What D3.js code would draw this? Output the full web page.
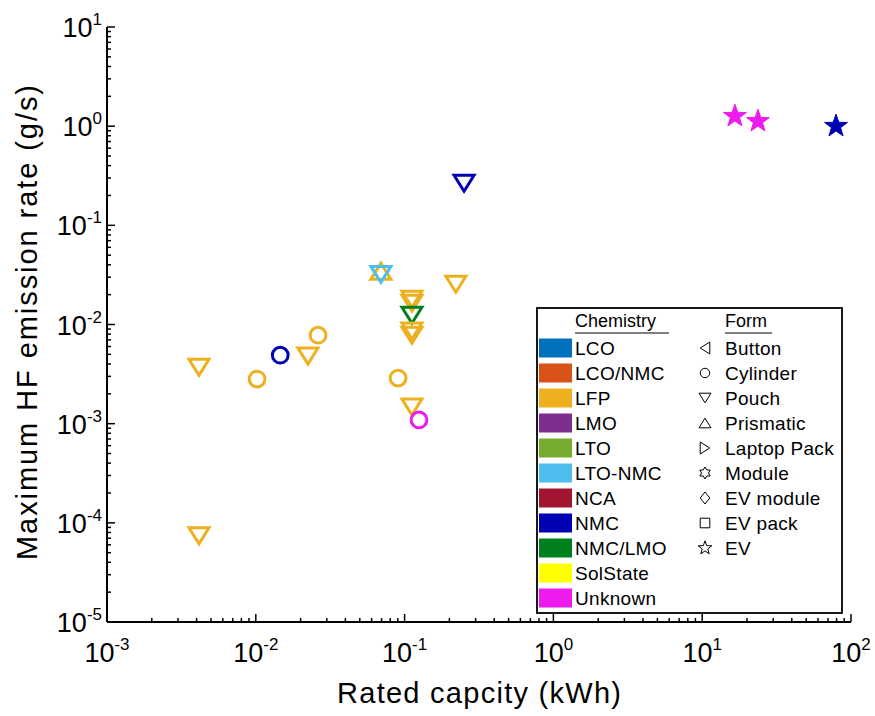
<!DOCTYPE html>
<html>
<head>
<meta charset="utf-8">
<script src="https://d3js.org/d3.v7.min.js"></script>
<style>
  body { margin: 0; background: #fff; }
  svg text { font-family: "Liberation Sans", Arial, sans-serif; }
</style>
</head>
<body>
<div id="chart"></div>
<script>
// data
var capacity  = [0.00415, 0.00415, 0.0102, 0.0146, 0.0224, 0.0262, 0.0693, 0.0693,
                 0.112, 0.112, 0.112, 0.112, 0.112, 0.0904, 0.112, 0.125, 0.221, 0.251,
                 16.6, 23.7, 79.3];
var hfRate    = [0.0037, 0.000074, 0.00282, 0.0049, 0.0048, 0.0078, 0.0345, 0.032,
                 0.018, 0.0164, 0.0124, 0.0086, 0.0078, 0.00288, 0.00147, 0.00109, 0.0255, 0.266,
                 1.26, 1.12, 1.0];
var chemistry = ["LFP", "LFP", "LFP", "NMC", "LFP", "LFP", "LFP", "LTO-NMC",
                 "LFP", "LFP", "NMC/LMO", "LFP", "LFP", "LFP", "LFP", "Unknown", "LFP", "NMC",
                 "Unknown", "Unknown", "NMC"];
var form      = ["Pouch", "Pouch", "Cylinder", "Cylinder", "Pouch", "Cylinder", "Prismatic", "Pouch",
                 "Pouch", "Pouch", "Pouch", "Pouch", "Pouch", "Cylinder", "Pouch", "Cylinder", "Pouch", "Pouch",
                 "EV", "EV", "EV"];

var chemNames  = ["LCO", "LCO/NMC", "LFP", "LMO", "LTO", "LTO-NMC", "NCA", "NMC", "NMC/LMO", "SolState", "Unknown"];
var chemColors = ["#0072BD", "#D95319", "#EDB120", "#7E2F8E", "#77AC30", "#4DBEEE", "#A2142F", "#0000B4", "#007F1F", "#FFFF00", "#EE1AEE"];
var formNames  = ["Button", "Cylinder", "Pouch", "Prismatic", "Laptop Pack", "Module", "EV module", "EV pack", "EV"];

var xTicks = [-3, -2, -1, 0, 1, 2];
var yTicks = [-5, -4, -3, -2, -1, 0, 1];

var W = 875, H = 716;
var margin = {left: 107, right: 24, top: 27, bottom: 94};

var svg = d3.select("#chart").append("svg")
    .attr("width", W).attr("height", H);

var x = d3.scaleLog().domain([1e-3, 1e2]).range([margin.left, W - margin.right]);
var y = d3.scaleLog().domain([1e-5, 1e1]).range([H - margin.bottom, margin.top]);

var color = d3.scaleOrdinal().domain(chemNames).range(chemColors);

// minor ticks
var minorX = [], minorY = [];
for (var e = -3; e < 2; e++) for (var m = 2; m <= 9; m++) minorX.push(m * Math.pow(10, e));
for (var e2 = -5; e2 < 1; e2++) for (var m2 = 2; m2 <= 9; m2++) minorY.push(m2 * Math.pow(10, e2));

var x0 = y.range()[0], y0 = x.range()[0];

// x axis
var gx = svg.append("g").attr("stroke", "#000");
gx.append("line").attr("x1", x.range()[0]).attr("x2", x.range()[1])
    .attr("y1", x0).attr("y2", x0).attr("stroke-width", 2);
gx.selectAll(".mx").data(minorX).enter().append("line")
    .attr("x1", d => x(d)).attr("x2", d => x(d))
    .attr("y1", x0).attr("y2", x0 - 4).attr("stroke-width", 1.5);
gx.selectAll(".Mx").data(xTicks).enter().append("line")
    .attr("x1", d => x(Math.pow(10, d))).attr("x2", d => x(Math.pow(10, d)))
    .attr("y1", x0).attr("y2", x0 - 8).attr("stroke-width", 1.5);

// y axis
var gy = svg.append("g").attr("stroke", "#000");
gy.append("line").attr("x1", y0).attr("x2", y0)
    .attr("y1", y.range()[0]).attr("y2", y.range()[1]).attr("stroke-width", 2);
gy.selectAll(".my").data(minorY).enter().append("line")
    .attr("x1", y0).attr("x2", y0 + 4)
    .attr("y1", d => y(d)).attr("y2", d => y(d)).attr("stroke-width", 1.5);
gy.selectAll(".My").data(yTicks).enter().append("line")
    .attr("x1", y0).attr("x2", y0 + 8)
    .attr("y1", d => y(Math.pow(10, d))).attr("y2", d => y(Math.pow(10, d))).attr("stroke-width", 1.5);

// tick labels
function powLabel(sel) {
  sel.append("tspan").text("10");
  sel.append("tspan").attr("dy", -12).attr("font-size", 17).text(d => d);
}
svg.selectAll(".xl").data(xTicks).enter().append("text")
    .attr("x", d => x(Math.pow(10, d)))
    .attr("y", x0 + 40)
    .attr("text-anchor", "middle")
    .attr("font-size", 27)
    .call(powLabel);
svg.selectAll(".yl").data(yTicks).enter().append("text")
    .attr("x", y0 - 5)
    .attr("y", d => y(Math.pow(10, d)) + 10)
    .attr("text-anchor", "end")
    .attr("font-size", 27)
    .call(powLabel);

// axis titles
svg.append("text")
    .attr("x", (x.range()[0] + x.range()[1]) / 2)
    .attr("y", 703)
    .attr("text-anchor", "middle")
    .attr("font-size", 29)
    .attr("textLength", 284)
    .text("Rated capcity (kWh)");
svg.append("text")
    .attr("transform", "translate(37," + ((y.range()[0] + y.range()[1]) / 2 - 2) + ") rotate(-90)")
    .attr("text-anchor", "middle")
    .attr("font-size", 29)
    .attr("textLength", 475)
    .text("Maximum HF emission rate (g/s)");

// marker shapes
function starPath(r, n) {
  var pts = [];
  var inner = n === 5 ? r * 0.4 : r * 0.58;
  for (var i = 0; i < 2 * n; i++) {
    var a = -Math.PI / 2 + i * Math.PI / n;
    var rr = i % 2 === 0 ? r : inner;
    pts.push([rr * Math.cos(a), rr * Math.sin(a)]);
  }
  return "M" + pts.map(p => p.join(",")).join("L") + "Z";
}
function markerPath(f, s) {
  var h = s * 0.8;
  switch (f) {
    case "Button": return "M" + (-h) + ",0L" + h + "," + (-s) + "L" + h + "," + s + "Z";
    case "Laptop Pack": return "M" + h + ",0L" + (-h) + "," + (-s) + "L" + (-h) + "," + s + "Z";
    case "Pouch": return "M" + (-s) + "," + (-h) + "L" + s + "," + (-h) + "L0," + h + "Z";
    case "Prismatic": return "M" + (-s) + "," + h + "L" + s + "," + h + "L0," + (-h) + "Z";
    case "Cylinder": return d3.symbol().type(d3.symbolCircle).size(Math.PI * s * s * 0.62)();
    case "Module": return starPath(s, 6);
    case "EV module": return "M0," + (-s) + "L" + h + ",0L0," + s + "L" + (-h) + ",0Z";
    case "EV pack": return "M" + (-h) + "," + (-h) + "H" + h + "V" + h + "H" + (-h) + "Z";
    case "EV": return starPath(s * 1.2, 5);
  }
}

var points = capacity.map((c, i) => ({c: c, r: hfRate[i], chem: chemistry[i], form: form[i]}));

svg.append("g").selectAll("path")
    .data(points)
    .enter().append("path")
    .attr("transform", d => "translate(" + x(d.c) + "," + y(d.r) + ")")
    .attr("d", d => markerPath(d.form, 10))
    .attr("fill", d => d.form === "EV" ? color(d.chem) : "none")
    .attr("stroke", d => color(d.chem))
    .attr("stroke-width", d => d.form === "EV" ? 1 : 3);

// legend
var lg = svg.append("g");
lg.append("rect").attr("x", 537).attr("y", 308).attr("width", 305).attr("height", 305)
    .attr("fill", "#fff").attr("stroke", "#000").attr("stroke-width", 1.8);

var rowH = 25, row0 = 348;
lg.append("text").attr("x", 575).attr("y", 327).attr("font-size", 18).text("Chemistry");
lg.append("line").attr("x1", 575).attr("x2", 669).attr("y1", 333).attr("y2", 333).attr("stroke", "#000");
lg.append("text").attr("x", 725).attr("y", 327).attr("font-size", 18).text("Form");
lg.append("line").attr("x1", 725).attr("x2", 772).attr("y1", 333).attr("y2", 333).attr("stroke", "#000");

lg.selectAll(".sw").data(chemNames).enter().append("rect")
    .attr("x", 539).attr("y", (d, i) => row0 + i * rowH - 9.5)
    .attr("width", 33).attr("height", 19)
    .attr("fill", d => color(d));
lg.selectAll(".cl").data(chemNames).enter().append("text")
    .attr("x", 575).attr("y", (d, i) => row0 + i * rowH + 7)
    .attr("font-size", 19).attr("letter-spacing", 0.3).text(d => d);

lg.selectAll(".fm").data(formNames).enter().append("path")
    .attr("transform", (d, i) => "translate(705," + (row0 + i * rowH) + ")")
    .attr("d", d => markerPath(d, 6))
    .attr("fill", "none").attr("stroke", "#000").attr("stroke-width", 1);
lg.selectAll(".fl").data(formNames).enter().append("text")
    .attr("x", 725).attr("y", (d, i) => row0 + i * rowH + 7)
    .attr("font-size", 19).attr("letter-spacing", 0.3).text(d => d);
</script>
</body>
</html>
